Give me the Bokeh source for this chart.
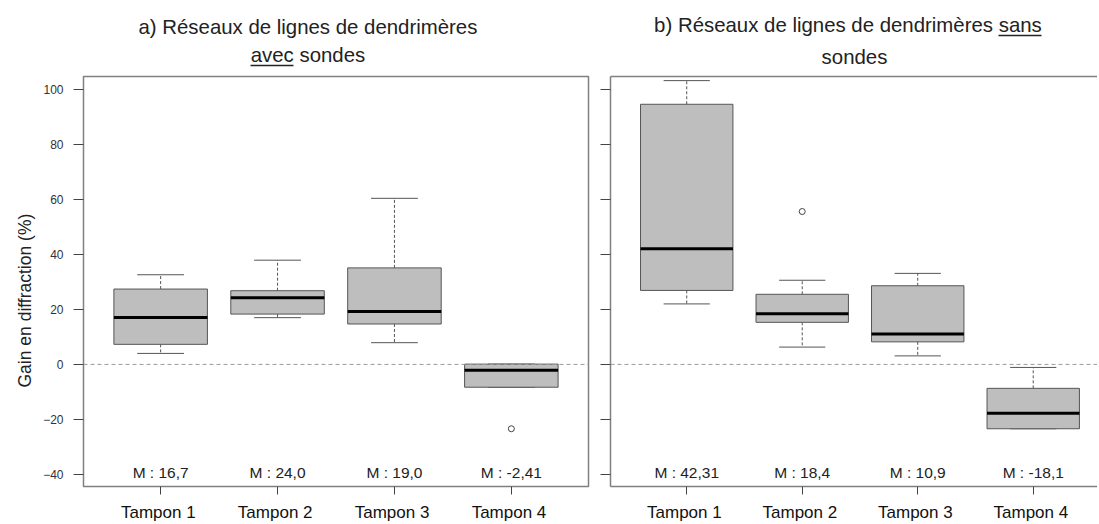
import numpy as np
from bokeh.plotting import figure
from bokeh.layouts import row
from bokeh.models import (FixedTicker, Span, Title, ColumnDataSource, LinearAxis)
from bokeh.embed import file_html
from bokeh.resources import INLINE
from bokeh.core.properties import value

# ---------------- data ----------------
CATEGORIES = ["Tampon  1", "Tampon  2", "Tampon  3", "Tampon  4"]
Y_TICKS = [-40, -20, 0, 20, 40, 60, 80, 100]

# a) avec sondes
A_LOW = [4.0, 17.0, 7.9, -8.3]
A_Q1 = [7.3, 18.3, 14.7, -8.3]
A_MED = [17.1, 24.2, 19.2, -2.1]
A_Q3 = [27.4, 26.8, 35.1, 0.1]
A_HIGH = [32.6, 37.9, 60.4, 0.1]
A_OUT_GROUP = [4]
A_OUT_VALUE = [-23.4]
A_MEAN_LABELS = ["M : 16,7", "M : 24,0", "M : 19,0", "M : -2,41"]

# b) sans sondes
B_LOW = [22.0, 6.3, 3.1, -23.4]
B_Q1 = [26.9, 15.3, 8.2, -23.4]
B_MED = [42.1, 18.4, 11.1, -17.8]
B_Q3 = [94.6, 25.5, 28.6, -8.7]
B_HIGH = [103.2, 30.6, 33.1, -1.1]
B_OUT_GROUP = [2]
B_OUT_VALUE = [55.6]
B_MEAN_LABELS = ["M : 42,31", "M : 18,4", "M : 10,9", "M : -18,1"]

TITLE_A = ["a) Réseaux de lignes de dendrimères", "avec sondes"]
TITLE_B = ["b) Réseaux de lignes de dendrimères sans", "sondes"]
UNDERLINED_A = "avec"
UNDERLINED_B = "sans"
Y_LABEL = "Gain en diffraction (%)"

# ---------------- layout constants (page pixels) ----------------
FONT = "Liberation Sans"
FIG_H = 524
FRAME_TOP, FRAME_BOTTOM = 76, 489
Y0, Y1 = -44.4, 104.7
X0 = 0.34
LEFT_SPACING = 505 / 4.32   # px per x unit, left panel
RIGHT_SPACING = 115.5       # px per x unit, right panel
LEFT_FRAME = (83, 588)
RIGHT_FRAME = (610, 1097)
TITLE_SIZE = 20.4
GREY = "#555555"
FRAME_GREY = "#808080"


def xdata(px, frame_left, spacing):
    return X0 + (px - frame_left) / spacing


def text_w(s, size):
    # Arial / Liberation Sans advance widths (per 1000 em)
    w = {'a': 556, ')': 333, ' ': 278, 'R': 722, 'é': 556, 's': 500, 'e': 556, 'u': 556,
         'x': 500, 'd': 556, 'l': 222, 'i': 222, 'g': 556, 'n': 556, 'r': 333, 'm': 833,
         'è': 556, 'v': 500, 'c': 500, 'o': 556, 'b': 556}
    return sum(w.get(ch, 556) for ch in s) * size / 1000.0


def spacer(size):
    # invisible axis used only to reserve vertical space
    return LinearAxis(ticker=FixedTicker(ticks=[1.0]), axis_line_color=None,
                      major_tick_out=size, major_tick_in=0, minor_tick_out=0, minor_tick_in=0,
                      major_tick_line_color=None, minor_tick_line_color=None,
                      major_label_text_color=None, major_label_text_font_size="1px",
                      major_label_standoff=0)


def rule(x_a, x_b, color, width):
    return LinearAxis(ticker=FixedTicker(ticks=[]), axis_line_color=color,
                      axis_line_width=width, bounds=(x_a, x_b),
                      major_tick_out=0, major_tick_in=0, minor_tick_out=0, minor_tick_in=0,
                      major_label_text_font_size="1px", major_label_standoff=0)


def title(text, offset, standoff):
    return Title(text=text, align="left", offset=offset, standoff=standoff,
                 text_font=FONT, text_font_size=f"{TITLE_SIZE}px",
                 text_font_style="normal", text_color="#222222")


def make_panel(low, q1, med, q3, high, out_g, out_v, mean_labels, frame, spacing,
               fig_left, fig_right, first):
    x_end = X0 + (frame[1] - frame[0]) / spacing
    p = figure(width=fig_right - fig_left, height=FIG_H,
               x_range=(X0, x_end), y_range=(Y0, Y1),
               output_backend="svg", toolbar_location=None,
               min_border_left=frame[0] - fig_left,
               min_border_right=fig_right - frame[1],
               min_border_top=FRAME_TOP, min_border_bottom=FIG_H - FRAME_BOTTOM)
    p.xgrid.visible = False
    p.ygrid.visible = False
    p.background_fill_color = "white"
    p.border_fill_color = "white"

    xs = [i + 1 for i in range(len(CATEGORIES))]
    src = ColumnDataSource(dict(
        x=xs, low=low, q1=q1, med=med, q3=q3, high=high,
        cl=[x - 0.2 for x in xs], cr=[x + 0.2 for x in xs],
        bl=[x - 0.4 for x in xs], br=[x + 0.4 for x in xs],
        mlab=mean_labels, my=[-39.3] * len(xs)))

    p.segment(x0='x', y0='q3', x1='x', y1='high', source=src,
              line_color=GREY, line_width=1, line_dash="3 2")
    p.segment(x0='x', y0='q1', x1='x', y1='low', source=src,
              line_color=GREY, line_width=1, line_dash="3 2")
    p.segment(x0='cl', y0='high', x1='cr', y1='high', source=src,
              line_color=GREY, line_width=1)
    p.segment(x0='cl', y0='low', x1='cr', y1='low', source=src,
              line_color=GREY, line_width=1)
    p.quad(left='bl', right='br', bottom='q1', top='q3', source=src,
           fill_color="#BEBEBE", line_color=GREY, line_width=1)
    p.segment(x0='bl', y0='med', x1='br', y1='med', source=src,
              line_color="black", line_width=3)
    p.scatter(x=out_g, y=out_v, marker="circle", size=6, fill_color=None,
              line_color="#444444", line_width=1)
    p.text(x='x', y='my', text='mlab', source=src, text_align="center",
           text_baseline="middle", text_font=value(FONT), text_font_size="15.5px",
           text_color="#222222")

    p.add_layout(Span(location=0, dimension="width", line_color="#9a9a9a",
                      line_dash="4 3", line_width=1))

    p.yaxis.ticker = FixedTicker(ticks=Y_TICKS)
    p.yaxis.major_tick_out = 10
    p.yaxis.major_tick_in = 0
    p.yaxis.minor_tick_line_color = None
    p.yaxis.major_tick_line_color = "#444444"
    p.yaxis.major_label_text_font = FONT
    p.yaxis.major_label_text_color = "#333333"
    if first:
        p.yaxis.major_label_text_font_size = "12px"
        p.yaxis.major_label_standoff = 10
    else:
        p.yaxis.major_label_text_font_size = "1px"
        p.yaxis.major_label_text_color = None
        p.yaxis.major_label_standoff = 0

    p.xaxis.ticker = FixedTicker(ticks=xs)
    p.xaxis.major_label_overrides = {x: c for x, c in zip(xs, CATEGORIES)}
    p.xaxis.major_tick_out = 8
    p.xaxis.major_tick_in = 0
    p.xaxis.minor_tick_line_color = None
    p.xaxis.major_tick_line_color = "#444444"
    p.xaxis.major_label_text_font = FONT
    p.xaxis.major_label_text_font_size = "17px"
    p.xaxis.major_label_text_color = "#111111"
    p.xaxis.major_label_standoff = 8

    if first:
        p.outline_line_color = FRAME_GREY
        p.outline_line_width = 1.5
        p.xaxis.axis_line_color = None
        p.yaxis.axis_line_color = None
    else:
        p.outline_line_color = None
        p.xaxis.axis_line_color = FRAME_GREY
        p.xaxis.axis_line_width = 1.5
        p.yaxis.axis_line_color = FRAME_GREY
        p.yaxis.axis_line_width = 1.5
    return p


left = make_panel(A_LOW, A_Q1, A_MED, A_Q3, A_HIGH, A_OUT_GROUP, A_OUT_VALUE,
                  A_MEAN_LABELS, LEFT_FRAME, LEFT_SPACING, 0, 596, True)
right = make_panel(B_LOW, B_Q1, B_MED, B_Q3, B_HIGH, B_OUT_GROUP, B_OUT_VALUE,
                   B_MEAN_LABELS, RIGHT_FRAME, RIGHT_SPACING, 596, 1097, False)

# ---- left titles (stacked from the frame outward) ----
lf = LEFT_FRAME[0]
cx_a = 307.5
a1_left = cx_a - text_w(TITLE_A[0], TITLE_SIZE) / 2
a2_left = cx_a - text_w(TITLE_A[1], TITLE_SIZE) / 2
a_u0 = a2_left
a_u1 = a2_left + text_w(UNDERLINED_A, TITLE_SIZE)
left.add_layout(spacer(11), "above")
left.add_layout(rule(xdata(a_u0, lf, LEFT_SPACING), xdata(a_u1, lf, LEFT_SPACING),
                     "#222222", 1.5), "above")
left.add_layout(title(TITLE_A[1], a2_left - lf, 0), "above")
left.add_layout(title(TITLE_A[0], a1_left - lf, 7), "above")

# y-axis title on the left side
left.add_layout(Title(text=Y_LABEL, align="left", offset=99, standoff=11,
                      text_font=FONT, text_font_size="17.5px", text_font_style="normal",
                      text_color="#222222"), "left")

# ---- right titles ----
rf = RIGHT_FRAME[0]
cx_b1 = 847.5
cx_b2 = 854
b1_left = cx_b1 - text_w(TITLE_B[0], TITLE_SIZE) / 2
b2_left = cx_b2 - text_w(TITLE_B[1], TITLE_SIZE) / 2
b_u1 = b1_left + text_w(TITLE_B[0], TITLE_SIZE)
b_u0 = b_u1 - text_w(UNDERLINED_B, TITLE_SIZE)
right.add_layout(rule(X0, X0 + (RIGHT_FRAME[1] - RIGHT_FRAME[0]) / RIGHT_SPACING,
                      FRAME_GREY, 1.5), "above")
right.add_layout(title(TITLE_B[1], b2_left - rf, 17), "above")
right.add_layout(rule(xdata(b_u0, rf, RIGHT_SPACING), xdata(b_u1, rf, RIGHT_SPACING),
                      "#222222", 1.5), "above")
right.add_layout(title(TITLE_B[0], b1_left - rf, 0), "above")

layout = row(left, right)
open("out.html", "w").write(file_html(layout, INLINE))
